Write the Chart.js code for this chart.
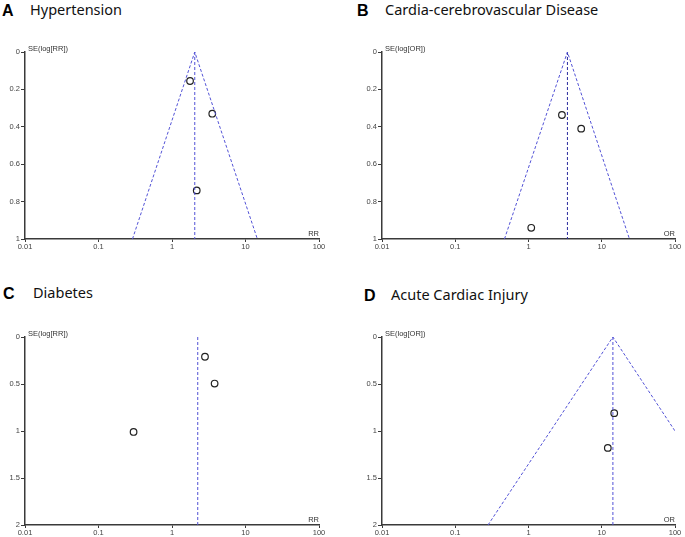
<!DOCTYPE html>
<html>
<head>
<meta charset="utf-8">
<script src="https://cdn.jsdelivr.net/npm/chart.js@4.4.0/dist/chart.umd.min.js"></script>
<style>
  body { margin: 0; background: #fff; width: 685px; height: 537px; position: relative; overflow: hidden; }
  canvas { position: absolute; }
  .lab { position: absolute; font: bold 16px "Liberation Sans", Arial, sans-serif; line-height: 1; color: #000; }
  .ttl { position: absolute; font: 14.5px "Noto Sans", sans-serif; line-height: 1; color: #111; white-space: nowrap; }
</style>
</head>
<body>
<div class="lab" style="left:2px;top:3px">A</div>
<div class="ttl" style="left:30px;top:2px">Hypertension</div>
<div class="lab" style="left:357px;top:3px">B</div>
<div class="ttl" style="left:385px;top:2px">Cardia-cerebrovascular Disease</div>
<div class="lab" style="left:3px;top:286px">C</div>
<div class="ttl" style="left:33px;top:285px">Diabetes</div>
<div class="lab" style="left:364px;top:288px">D</div>
<div class="ttl" style="left:391px;top:287px">Acute Cardiac Injury</div>

<canvas id="chartA" width="340" height="215" style="left:0;top:40px"></canvas>
<canvas id="chartB" width="345" height="215" style="left:340px;top:40px"></canvas>
<canvas id="chartC" width="340" height="227" style="left:0;top:310px"></canvas>
<canvas id="chartD" width="345" height="227" style="left:340px;top:310px"></canvas>

<script>
// 横轴刻度
const xTicks = [0.01, 0.1, 1, 10, 100];
const seTicksSmall = [0, 0.2, 0.4, 0.6, 0.8, 1];
const seTicksLarge = [0, 0.5, 1, 1.5, 2];

// A 高血压
const htnRR = [1.76, 3.53, 2.17];
const htnSE = [0.155, 0.33, 0.74];
const htnFunnelX = [0.29, 2.04, 14.5];
const htnFunnelY = [1, 0, 1];
const htnPooledX = [2.04, 2.04];
const htnPooledY = [0, 1];

// B 心脑血管疾病
const cvdOR = [2.86, 5.24, 1.09];
const cvdSE = [0.337, 0.41, 0.94];
const cvdFunnelX = [0.47, 3.4, 23.9];
const cvdFunnelY = [1, 0, 1];
const cvdPooledX = [3.4, 3.4];
const cvdPooledY = [0, 1];

// C 糖尿病
const dmRR = [2.81, 3.8, 0.30];
const dmSE = [0.21, 0.495, 1.01];
const dmPooledX = [2.24, 2.24];
const dmPooledY = [0, 2];

// D 急性心肌损伤
const aciOR = [14.8, 12.1];
const aciSE = [0.81, 1.18];
const aciFunnelX = [0.28, 14.2, 100];
const aciFunnelY = [2, 0, 1.0];
const aciPooledX = [14.2, 14.2];
const aciPooledY = [0, 2];

const blue = '#5252d6';
const navy = '#2b2b9e';
const axisColor = '#3a3a3a';

function toXY(xs, ys) {
    return xs.map((x, i) => ({ x: x, y: ys[i] }));
}

// 轴标题
const axisTitles = {
    id: 'axisTitles',
    afterDraw(chart, args, opts) {
        const { ctx, chartArea } = chart;
        ctx.save();
        ctx.fillStyle = '#333';
        ctx.font = '7.5px "Liberation Sans", Arial, sans-serif';
        ctx.textBaseline = 'middle';
        ctx.textAlign = 'left';
        ctx.fillText(opts.yTitle, chartArea.left + 3, chartArea.top - 3);
        ctx.textAlign = 'right';
        ctx.fillText(opts.xTitle, chartArea.right, chartArea.bottom - 5);
        ctx.restore();
    }
};

function funnelChart(id, cfg) {
    const datasets = [];
    if (cfg.funnelX) {
        datasets.push({
            type: 'line', data: toXY(cfg.funnelX, cfg.funnelY),
            borderColor: blue, borderWidth: 1, borderDash: [3, 2],
            pointRadius: 0, fill: false, tension: 0
        });
    }
    datasets.push({
        type: 'line', data: toXY(cfg.pooledX, cfg.pooledY),
        borderColor: cfg.pooledColor, borderWidth: 1, borderDash: [3, 2],
        pointRadius: 0, fill: false, tension: 0
    });
    datasets.push({
        data: toXY(cfg.x, cfg.se),
        pointRadius: 3.3, pointBorderColor: '#222', pointBorderWidth: 1.2,
        pointBackgroundColor: 'rgba(0,0,0,0)'
    });

    const tickFont = { size: 7.5, family: '"Liberation Sans", Arial, sans-serif' };

    return new Chart(document.getElementById(id).getContext('2d'), {
        type: 'scatter',
        data: { datasets: datasets },
        options: {
            responsive: false,
            animation: false,
            layout: { padding: { top: cfg.padTop, right: cfg.padRight, left: 0, bottom: 0 } },
            plugins: {
                legend: { display: false },
                tooltip: { enabled: false },
                axisTitles: { xTitle: cfg.xTitle, yTitle: cfg.yTitle }
            },
            scales: {
                x: {
                    type: 'logarithmic', min: 0.01, max: 100,
                    afterBuildTicks: s => { s.ticks = xTicks.map(v => ({ value: v })); },
                    afterFit: s => { s.height = cfg.xH; },
                    ticks: { callback: v => String(v), font: tickFont, color: '#444', padding: 0, maxRotation: 0, autoSkip: false },
                    grid: { drawOnChartArea: false, tickLength: 3, color: axisColor },
                    border: { color: axisColor, width: 1.5 }
                },
                y: {
                    type: 'linear', reverse: true, min: 0, max: cfg.yMax,
                    afterBuildTicks: s => { s.ticks = cfg.yTicks.map(v => ({ value: v })); },
                    afterFit: s => { s.width = cfg.yW; },
                    ticks: { callback: v => String(v), font: tickFont, color: '#444', padding: 1 },
                    grid: { drawOnChartArea: false, tickLength: 4, color: axisColor },
                    border: { color: axisColor, width: 1.5 }
                }
            }
        },
        plugins: [axisTitles]
    });
}

window.addEventListener('DOMContentLoaded', () => {
    funnelChart('chartA', {
        x: htnRR, se: htnSE, funnelX: htnFunnelX, funnelY: htnFunnelY,
        pooledX: htnPooledX, pooledY: htnPooledY, pooledColor: blue,
        yMax: 1, yTicks: seTicksSmall, xTitle: 'RR', yTitle: 'SE(log[RR])',
        padTop: 12, padRight: 21, yW: 25, xH: 16
    });
    funnelChart('chartB', {
        x: cvdOR, se: cvdSE, funnelX: cvdFunnelX, funnelY: cvdFunnelY,
        pooledX: cvdPooledX, pooledY: cvdPooledY, pooledColor: navy,
        yMax: 1, yTicks: seTicksSmall, xTitle: 'OR', yTitle: 'SE(log[OR])',
        padTop: 12, padRight: 10, yW: 42, xH: 16
    });
    funnelChart('chartC', {
        x: dmRR, se: dmSE,
        pooledX: dmPooledX, pooledY: dmPooledY, pooledColor: blue,
        yMax: 2, yTicks: seTicksLarge, xTitle: 'RR', yTitle: 'SE(log[RR])',
        padTop: 27, padRight: 21, yW: 25, xH: 12
    });
    funnelChart('chartD', {
        x: aciOR, se: aciSE, funnelX: aciFunnelX, funnelY: aciFunnelY,
        pooledX: aciPooledX, pooledY: aciPooledY, pooledColor: blue,
        yMax: 2, yTicks: seTicksLarge, xTitle: 'OR', yTitle: 'SE(log[OR])',
        padTop: 27, padRight: 10, yW: 42, xH: 12
    });
});
</script>
</body>
</html>
